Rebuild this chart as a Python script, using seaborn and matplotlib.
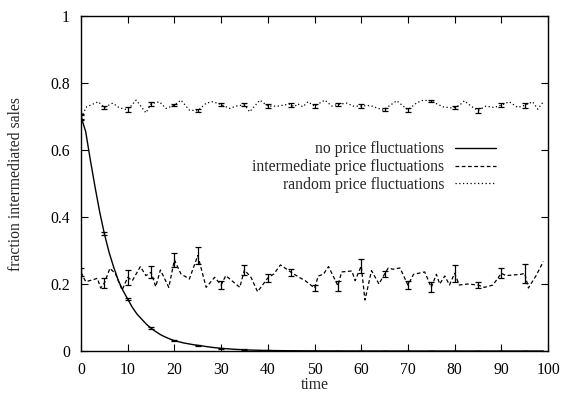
import matplotlib
matplotlib.use("Agg")
import matplotlib.pyplot as plt
import seaborn as sns
import pandas as pd
import numpy as np

# ---- data ----
no_t = [0, 1, 2, 3, 4, 5, 6, 7, 8, 9, 10, 11, 12, 13, 14, 15, 16, 17, 18, 19, 20,
        22, 24, 26, 28, 30, 33, 36, 40, 45, 50, 60, 70, 80, 90, 99]
no_v = [0.70, 0.655, 0.57, 0.49, 0.415, 0.35, 0.295, 0.25, 0.21, 0.18, 0.155, 0.13,
        0.11, 0.095, 0.08, 0.068, 0.058, 0.049, 0.042, 0.036, 0.031, 0.024, 0.019,
        0.015, 0.011, 0.008, 0.005, 0.003, 0.0015, 0.0008, 0.0004, 0.0001, 0, 0, 0, 0]

inter_t = [0, 1, 2.4, 3.5, 4.2, 5, 6.2, 7.4, 8.8, 10, 11, 12.7, 13.9, 15, 16, 17, 18.8,
           20, 21.4, 23.2, 25, 26.8, 28.6, 30, 31, 34, 35, 36.4, 37.8, 40, 41.3, 42.7,
           45, 46.7, 48, 50, 50.8, 51.9, 53, 55, 55.8, 58, 58.7, 60, 60.8, 62.2, 63.8,
           65, 65.8, 66.8, 68.3, 70, 71.2, 73.6, 75, 76.1, 76.8, 77.9, 78.9, 80, 81,
           82.8, 85, 86.4, 88.2, 90, 91, 94.2, 95, 95.8, 97.4, 99]
inter_v = [0.235, 0.207, 0.212, 0.217, 0.188, 0.203, 0.247, 0.23, 0.182, 0.22, 0.21,
           0.252, 0.225, 0.235, 0.192, 0.242, 0.19, 0.272, 0.23, 0.215, 0.285, 0.19,
           0.22, 0.197, 0.225, 0.19, 0.242, 0.22, 0.177, 0.218, 0.23, 0.257, 0.235,
           0.22, 0.21, 0.188, 0.224, 0.229, 0.252, 0.195, 0.236, 0.239, 0.21, 0.254,
           0.152, 0.24, 0.2, 0.23, 0.248, 0.244, 0.248, 0.197, 0.229, 0.236, 0.19,
           0.229, 0.2, 0.224, 0.197, 0.232, 0.197, 0.2, 0.197, 0.19, 0.197, 0.232,
           0.225, 0.229, 0.232, 0.188, 0.224, 0.267]

rand_t = [0, 1.2, 3.7, 5, 6.8, 8.2, 10, 11.8, 13.9, 15, 16.8, 18.2, 20, 21.4, 23.2, 25,
          26.8, 28.2, 30, 31.8, 33.2, 35, 36.1, 38.3, 40, 42.1, 44.6, 45.7, 46.4, 47.5,
          48.6, 50, 52.2, 53.7, 55, 56.9, 58.3, 60, 61.9, 64.7, 67.6, 69, 70, 71.9,
          73.3, 75, 77.5, 79.6, 81, 82.1, 83.5, 85, 86.7, 88.5, 90, 91.7, 93.5, 95,
          96.7, 97.8, 99]
rand_v = [0.697, 0.729, 0.744, 0.727, 0.74, 0.726, 0.72, 0.749, 0.711, 0.738, 0.744,
          0.724, 0.734, 0.749, 0.719, 0.717, 0.74, 0.744, 0.736, 0.724, 0.731, 0.735,
          0.714, 0.749, 0.731, 0.731, 0.737, 0.729, 0.738, 0.729, 0.744, 0.731, 0.749,
          0.731, 0.736, 0.74, 0.731, 0.731, 0.733, 0.719, 0.747, 0.731, 0.72, 0.741,
          0.749, 0.746, 0.729, 0.725, 0.733, 0.747, 0.731, 0.718, 0.731, 0.727, 0.734,
          0.744, 0.727, 0.733, 0.744, 0.722, 0.744]

err_t = [0, 5, 10, 15, 20, 25, 30, 35, 40, 45, 50, 55, 60, 65, 70, 75, 80, 85, 90, 95]
inter_err = [0.012, 0.015, 0.022, 0.018, 0.02, 0.025, 0.013, 0.015, 0.012, 0.01,
             0.01, 0.015, 0.02, 0.01, 0.012, 0.015, 0.025, 0.01, 0.015, 0.028]
rand_err = [0.008, 0.005, 0.007, 0.006, 0.004, 0.005, 0.004, 0.004, 0.005, 0.005,
            0.005, 0.005, 0.005, 0.004, 0.006, 0.004, 0.005, 0.007, 0.005, 0.007]
no_err = [0.006, 0.005, 0.004, 0.003, 0.002, 0.002, 0.001, 0.001, 0.001, 0.0005,
          0.0005, 0.0005, 0.0005, 0.0005, 0.0005, 0.0005, 0.0005, 0.0005, 0.0005, 0.0005]

labels = ["no price fluctuations", "intermediate price fluctuations",
          "random price fluctuations"]

# ---- style ----
sns.set_style("ticks")
plt.rcParams['font.family'] = ['Liberation Serif', 'DejaVu Serif']
FS = 11.3
plt.rcParams['font.size'] = FS

fig = plt.figure(figsize=(5.63, 3.96), dpi=100)
ax = fig.add_axes([0.1439, 0.1136, 0.9734 - 0.1439, 0.9596 - 0.1136])

df_no = pd.DataFrame({"time": no_t, "v": no_v})
df_in = pd.DataFrame({"time": inter_t, "v": inter_v})
df_ra = pd.DataFrame({"time": rand_t, "v": rand_v})

sns.lineplot(data=df_no, x="time", y="v", ax=ax, color="black", lw=1.0,
             label=labels[0])
sns.lineplot(data=df_in, x="time", y="v", ax=ax, color="black", lw=0.9,
             label=labels[1])
sns.lineplot(data=df_ra, x="time", y="v", ax=ax, color="black", lw=0.9,
             label=labels[2])
ax.lines[1].set_linestyle((0, (3.0, 2.0)))
ax.lines[2].set_linestyle((0, (1.0, 2.0)))

def interp(ts, vs, at):
    return np.interp(at, ts, vs)

for ts, vs, es in [(no_t, no_v, no_err), (inter_t, inter_v, inter_err),
                   (rand_t, rand_v, rand_err)]:
    ax.errorbar(err_t, interp(ts, vs, err_t), yerr=es, fmt="none", ecolor="black",
                elinewidth=0.9, capsize=2.2, capthick=0.9)

ax.set_xlim(0, 100)
ax.set_ylim(0, 1)
ax.set_xticks(range(0, 101, 10))
ax.set_yticks([0, 0.2, 0.4, 0.6, 0.8, 1])
ax.set_yticklabels(["0", "0.2", "0.4", "0.6", "0.8", "1"])
ax.tick_params(direction="in", length=5, width=0.8, top=True, right=True,
               labelsize=FS, colors="black")
ax.tick_params(axis="x", pad=8)
ax.tick_params(axis="y", pad=8)
for s in ax.spines.values():
    s.set_visible(True)
    s.set_linewidth(1.0)
    s.set_color("black")
ax.set_xlabel("time", fontsize=FS, labelpad=-1)
ax.set_ylabel("fraction intermediated sales", fontsize=FS, labelpad=19)

leg = ax.legend(loc="upper right", bbox_to_anchor=(0.902, 0.645), frameon=False,
                markerfirst=False, handlelength=2.6, handletextpad=0.7,
                labelspacing=0.12, fontsize=FS, borderaxespad=0)
for t in leg.get_texts():
    t.set_ha("right")
leg._legend_box.align = "right"

fig.savefig("out.png", dpi=100, facecolor="white")
